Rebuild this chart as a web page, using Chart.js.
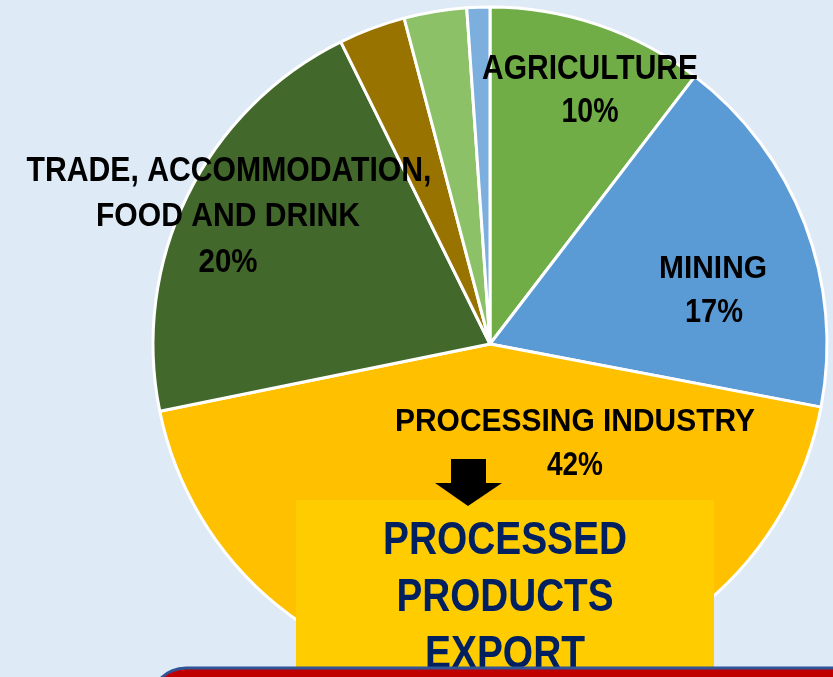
<!DOCTYPE html>
<html>
<head>
<meta charset="utf-8">
<script src="https://cdn.jsdelivr.net/npm/chart.js@4"></script>
<style>
  html, body { margin: 0; padding: 0; background: #DEEAF6; overflow: hidden; }
  #wrap { width: 833px; height: 677px; position: relative; }
</style>
</head>
<body>
<div id="wrap"><canvas id="pie" width="833" height="677"></canvas></div>
<script>
/* ── DATA ───────────────────────────────────────────────── */
const SECTORS = ['Agriculture', 'Mining', 'Processing industry', 'Trade, accommodation, food and drink', 'Other sector 1', 'Other sector 2', 'Other sector 3'];
const SHARES  = [10.4, 17.6, 43.8, 20.9, 3.2, 3.0, 1.1];
const COLORS  = ['#70AD47', '#5B9BD5', '#FFC000', '#43682B', '#997300', '#8CC168', '#7CAFDD'];

// label lines shown on the slices
const LABEL_LINES = [
  ['AGRICULTURE', '10%'],
  ['MINING', '17%'],
  ['PROCESSING INDUSTRY', '42%'],
  ['TRADE, ACCOMMODATION,', 'FOOD AND DRINK', '20%']
];
const CALLOUT_LINES = ['PROCESSED', 'PRODUCTS', 'EXPORT'];

const FONT = '"Liberation Sans", Arial, sans-serif';

/* ── HELPERS ────────────────────────────────────────────── */
// draws bold text squeezed to a target width (the original uses a narrow face)
function fitText(ctx, text, cx, cy, size, width, color) {
  ctx.save();
  ctx.font = `bold ${size}px ${FONT}`;
  ctx.fillStyle = color;
  ctx.textAlign = 'center';
  ctx.textBaseline = 'middle';
  const w = ctx.measureText(text).width;
  ctx.translate(cx, cy);
  ctx.scale(width / w, 1);
  ctx.fillText(text, 0, 0);
  ctx.restore();
}

/* ── OVERLAY PLUGIN ─────────────────────────────────────── */
const overlay = {
  id: 'overlay',
  afterDraw(chart) {
    const ctx = chart.ctx;

    // slice labels  [cx, cy, size, width] per line
    const place = [
      [[590, 69, 35, 216], [590, 112, 35, 57]],
      [[713, 269, 32, 108], [714, 313, 33, 58]],
      [[575, 422, 32, 360], [575, 466, 33, 56]],
      [[229, 171, 35, 405], [228, 217, 34, 264], [228, 263, 34, 59]]
    ];
    LABEL_LINES.forEach((lines, i) => {
      lines.forEach((t, j) => {
        const p = place[i][j];
        fitText(ctx, t, p[0], p[1], p[2], p[3], '#000000');
      });
    });

    // callout box
    ctx.save();
    ctx.fillStyle = '#FFCC00';
    ctx.fillRect(296, 500, 418, 180);

    // down arrow, tip overlaps the box
    ctx.fillStyle = '#000000';
    ctx.fillRect(451, 459, 35, 25);
    ctx.beginPath();
    ctx.moveTo(435, 483);
    ctx.lineTo(502, 483);
    ctx.lineTo(468, 506);
    ctx.closePath();
    ctx.fill();
    ctx.restore();

    const callout = [[505, 541, 47, 244], [505, 598, 47, 217], [505, 655, 47, 160]];
    CALLOUT_LINES.forEach((t, i) => {
      const p = callout[i];
      fitText(ctx, t, p[0], p[1], p[2], p[3], '#002060');
    });

    // red banner at the bottom
    ctx.save();
    ctx.beginPath();
    ctx.roundRect(150, 668, 720, 80, 36);
    ctx.fillStyle = '#C00000';
    ctx.fill();
    ctx.lineWidth = 3;
    ctx.strokeStyle = '#2F5597';
    ctx.stroke();
    ctx.restore();
  }
};

/* ── CHART ──────────────────────────────────────────────── */
new Chart(document.getElementById('pie'), {
  type: 'pie',
  data: {
    labels: SECTORS,
    datasets: [{
      data: SHARES,
      backgroundColor: COLORS,
      borderColor: '#FFFFFF',
      borderWidth: 3,
      radius: 337
    }]
  },
  options: {
    responsive: false,
    animation: false,
    layout: { padding: { left: 147, right: 0, top: 11, bottom: 0 } },
    plugins: { legend: { display: false }, tooltip: { enabled: false } }
  },
  plugins: [overlay]
});
</script>
</body>
</html>
